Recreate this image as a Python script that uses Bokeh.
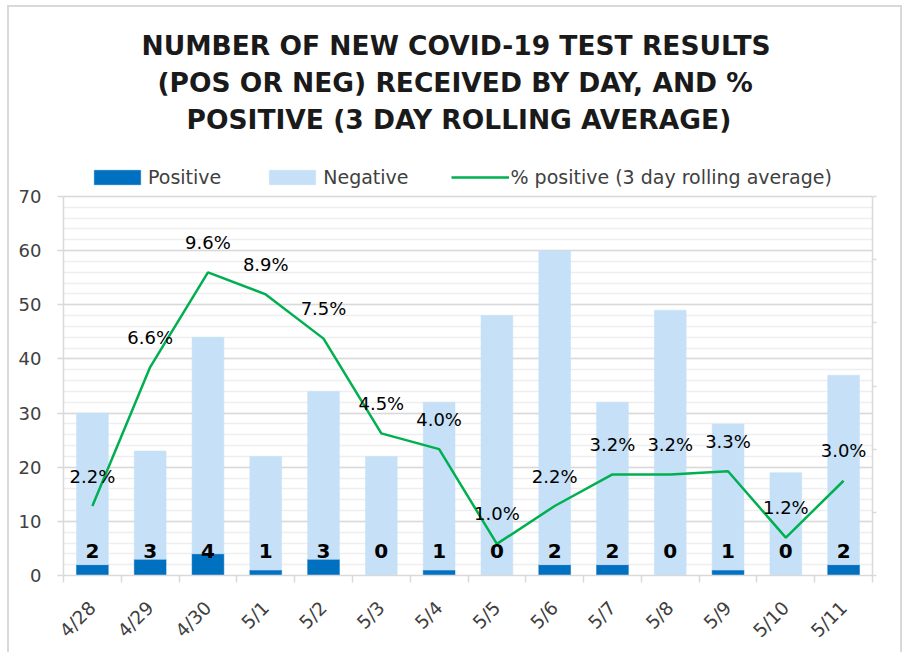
import numpy as np
from bokeh.plotting import figure
from bokeh.models import (ColumnDataSource, Range1d, LinearAxis, FixedTicker, Legend,
                          LegendItem, Title, LabelSet)
from bokeh.core.properties import value
from bokeh.embed import file_html
from bokeh.resources import INLINE

# ---- data ----
dates = ["4/28", "4/29", "4/30", "5/1", "5/2", "5/3", "5/4",
         "5/5", "5/6", "5/7", "5/8", "5/9", "5/10", "5/11"]
positive = [2, 3, 4, 1, 3, 0, 1, 0, 2, 2, 0, 1, 0, 2]
negative = [28, 20, 40, 21, 31, 22, 31, 48, 58, 30, 49, 27, 19, 35]
pct_positive = [2.2, 6.6, 9.6, 8.9, 7.5, 4.5, 4.0, 1.0, 2.2, 3.2, 3.2, 3.3, 1.2, 3.0]
y_ticks = [0, 10, 20, 30, 40, 50, 60, 70]
y_minor = list(range(0, 71, 2))
pct_ticks = [0, 0.02, 0.04, 0.06, 0.08, 0.10, 0.12]
title_lines = ["NUMBER OF NEW COVID-19 TEST RESULTS",
               "(POS OR NEG) RECEIVED BY DAY, AND %",
               "POSITIVE (3 DAY ROLLING AVERAGE)"]

FONT = "DejaVu Sans"
n = len(dates)
x = np.arange(n) + 0.5

src = ColumnDataSource(dict(
    x=x, date=dates, pos=positive, neg=negative,
    pct=np.array(pct_positive) / 100.0,
    pos_label=[str(v) for v in positive],
    pct_label=[f"{v:.1f}%" for v in pct_positive],
))

# layout (pixels)
W, H = 905, 652
TOP, BOTTOM, LEFT, RIGHT = 136, 77, 63, 33
AXIS_PX = 379                      # pixel height of the 0..70 value axis
frame_h = H - TOP - BOTTOM
y_end = y_ticks[-1] * frame_h / AXIS_PX      # headroom above 70 holds the legend
pct_end = pct_ticks[-1] * frame_h / AXIS_PX

p = figure(width=W, height=H, x_range=Range1d(0, n), y_range=Range1d(0, y_end),
           output_backend="svg", toolbar_location=None, title=None,
           min_border_left=LEFT, min_border_right=RIGHT,
           min_border_top=TOP, min_border_bottom=BOTTOM)
p.extra_y_ranges = {"pct": Range1d(0, pct_end)}
p.background_fill_color = "white"
p.border_fill_alpha = 0
p.outline_line_color = None
p.styles = {
    "background-color": "white",
    "background-image": ("linear-gradient(#D9D9D9, #D9D9D9), linear-gradient(#D9D9D9, #D9D9D9), "
                         "linear-gradient(#D9D9D9, #D9D9D9)"),
    "background-size": "2px 700px, 894px 2px, 2px 700px",
    "background-position": "7px 5px, 7px 5px, 900px 5px",
    "background-repeat": "no-repeat",
}

# grid
p.xgrid.visible = False
p.ygrid.ticker = FixedTicker(ticks=y_ticks, minor_ticks=y_minor)
p.ygrid.grid_line_color = "#D9D9D9"
p.ygrid.grid_line_width = 1.5
p.ygrid.minor_grid_line_color = "#EEEEEE"
p.ygrid.minor_grid_line_width = 1.5

# y axis
ya = p.yaxis[0]
ya.ticker = FixedTicker(ticks=y_ticks, minor_ticks=[])
ya.bounds = (0, y_ticks[-1])
ya.axis_line_color = "#D9D9D9"
ya.axis_line_width = 1.5
ya.major_tick_line_color = "#D9D9D9"
ya.major_tick_line_width = 1.5
ya.major_tick_out = 6
ya.major_tick_in = 0
ya.minor_tick_out = 0
ya.minor_tick_in = 0
ya.major_label_standoff = 16
ya.major_label_text_font = FONT
ya.major_label_text_font_size = "18px"
ya.major_label_text_color = "#404040"

# x axis
xa = p.xaxis[0]
xa.ticker = FixedTicker(ticks=list(x), minor_ticks=list(range(n + 1)))
xa.major_label_overrides = {float(xi): d for xi, d in zip(x, dates)}
xa.axis_line_color = "#D9D9D9"
xa.axis_line_width = 1.5
xa.major_tick_out = 0
xa.major_tick_in = 0
xa.minor_tick_out = 7
xa.minor_tick_in = 0
xa.minor_tick_line_color = "#D9D9D9"
xa.minor_tick_line_width = 1.5
xa.major_label_orientation = np.pi / 4
xa.major_label_standoff = 22
xa.major_label_text_font = FONT
xa.major_label_text_font_size = "18.5px"
xa.major_label_text_color = "#404040"

# secondary (hidden-label) axis on right
ra = LinearAxis(y_range_name="pct", ticker=FixedTicker(ticks=pct_ticks, minor_ticks=[]),
                bounds=(0, pct_ticks[-1]))
ra.axis_line_color = "#D9D9D9"
ra.axis_line_width = 1.5
ra.major_tick_line_color = "#D9D9D9"
ra.major_tick_line_width = 1.5
ra.major_tick_out = 4
ra.major_tick_in = 0
ra.minor_tick_out = 0
ra.major_label_text_font_size = "1px"
ra.major_label_text_alpha = 0
ra.major_label_standoff = 0
p.add_layout(ra, "right")

# bars
bars = p.vbar_stack(["pos", "neg"], x="x", width=0.55, source=src,
                    fill_color=["#0070C0", "#C5E0F7"], line_color=["#0070C0", "#C5E0F7"],
                    line_width=0.5)

# line
ln = p.line(x="x", y="pct", y_range_name="pct", source=src,
            line_color="#00B050", line_width=2.5)

# labels
pct_labels = LabelSet(x="x", y="pct", y_range_name="pct", text="pct_label", source=src,
                      y_offset=30, text_align="center", text_baseline="middle",
                      text_font=value(FONT), text_font_size=value("18px"), text_color="black")
p.add_layout(pct_labels)
pos_labels = LabelSet(x="x", y=0, text="pos_label", source=src,
                      y_offset=25, text_align="center", text_baseline="middle",
                      text_font=value(FONT), text_font_size=value("20px"),
                      text_font_style="bold", text_color="black")
p.add_layout(pos_labels)

# legend (in the headroom above the 70 line)
legend = Legend(items=[
    LegendItem(label="Positive", renderers=[bars[0]]),
    LegendItem(label="Negative", renderers=[bars[1]]),
    LegendItem(label="% positive (3 day rolling average)", renderers=[ln]),
], orientation="horizontal", location=(25, 387),
    glyph_width=58, glyph_height=18, label_standoff=2, spacing=42,
    label_text_font=FONT, label_text_font_size="19px", label_text_color="#404040",
    border_line_color=None, background_fill_alpha=0, padding=0, margin=0)
p.add_layout(legend, "center")

# title (three lines, added from bottom to top), centred on the chart box
title_offsets = [78, 94, 123]
for txt, off in reversed(list(zip(title_lines, title_offsets))):
    p.add_layout(Title(text=txt, align="left", offset=off, standoff=4,
                       text_font=FONT, text_font_style="bold", text_font_size="26.5px",
                       text_color="#1A1A1A"), "above")

open("out.html", "w").write(file_html(p, INLINE))
